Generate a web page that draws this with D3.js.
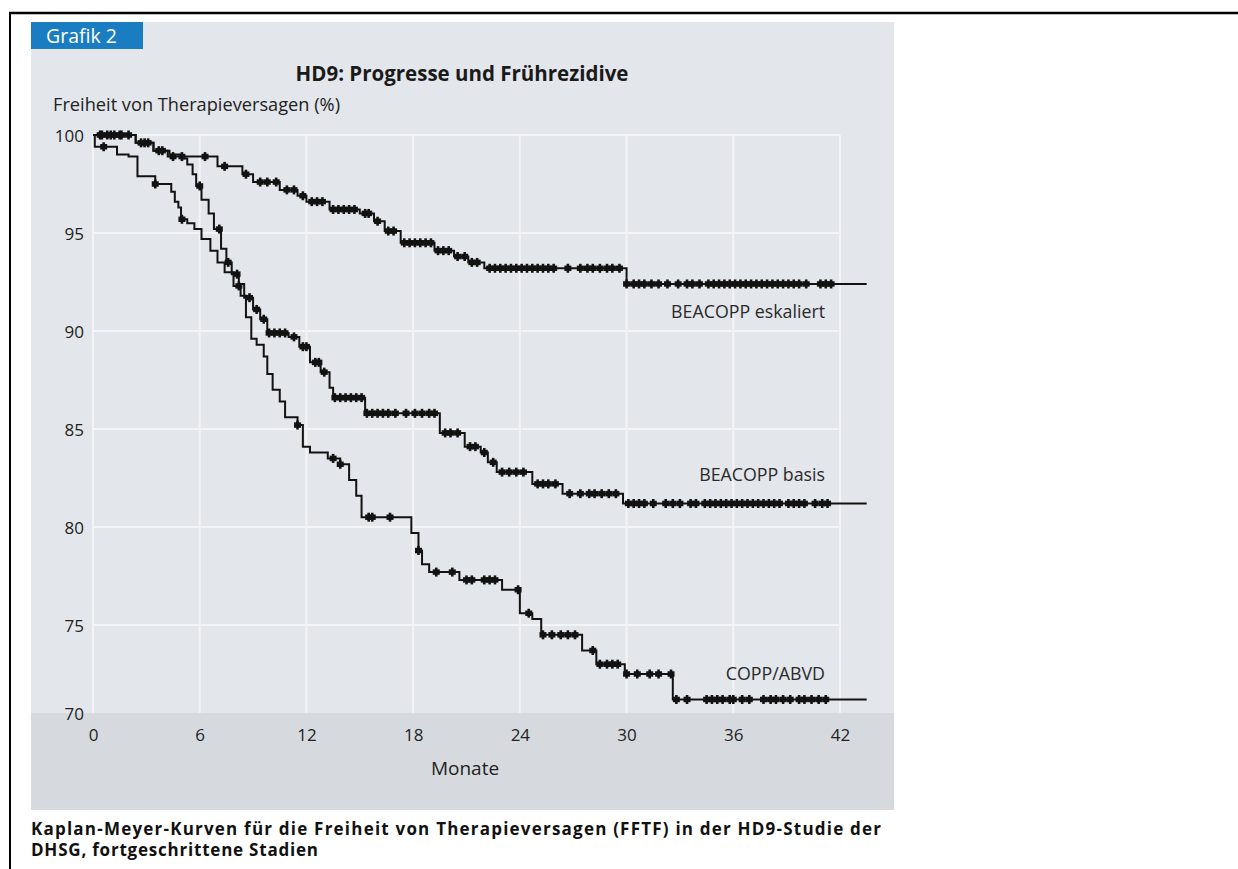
<!DOCTYPE html>
<html>
<head>
<meta charset="utf-8">
<script src="https://cdn.jsdelivr.net/npm/d3@7"></script>
<style>
  body { margin: 0; background: #fff; }
  svg { display: block; }
</style>
</head>
<body>
<div id="chart"></div>
<script>
// axis ticks
const monthTicks = [0, 6, 12, 18, 24, 30, 36, 42];
const pctTicks = [70, 75, 80, 85, 90, 95, 100];

// Kaplan-Meyer steps: [month, FFTF %]
const escSteps = [[0,100],[2.4,99.6],[3.4,99.2],[4.2,98.9],[7.0,98.4],[8.4,98.0],[9.0,97.6],
  [10.5,97.2],[11.5,96.9],[12.0,96.6],[13.3,96.2],[15.0,96.0],[15.8,95.6],[16.4,95.1],
  [17.3,94.5],[19.2,94.1],[20.3,93.8],[21.1,93.5],[22.0,93.2],[30.0,92.4],[43.5,92.4]];
const basSteps = [[0,100],[2.4,99.6],[3.4,99.2],[4.3,99.0],[5.0,98.8],[5.3,98.5],[5.6,98.0],
  [5.8,97.4],[6.1,96.7],[6.5,96.0],[6.8,95.2],[7.2,94.2],[7.5,93.5],[7.8,92.9],[8.2,92.4],
  [8.5,91.7],[9.0,91.1],[9.4,90.6],[9.8,89.9],[11.0,89.7],[11.6,89.2],[12.2,88.4],[12.8,87.9],
  [13.3,87.1],[13.5,86.6],[15.3,85.8],[19.5,84.8],[20.9,84.1],[21.8,83.8],[22.2,83.3],
  [22.7,82.8],[24.7,82.2],[26.4,81.7],[29.8,81.2],[43.5,81.2]];
const coppSteps = [[0,100],[0.1,99.4],[1.35,99.0],[2.0,98.9],[2.5,97.9],[3.5,97.5],[4.4,97.1],
  [4.6,96.6],[4.8,96.3],[4.95,95.7],[5.3,95.5],[5.7,95.2],[6.1,94.7],[6.6,94.1],[7.0,93.5],
  [7.4,93.0],[7.9,92.3],[8.3,91.8],[8.6,90.7],[8.9,89.6],[9.2,89.3],[9.6,88.7],[9.8,87.8],
  [10.1,87.0],[10.5,86.4],[10.8,85.6],[11.5,85.2],[11.8,84.1],[12.2,83.8],[13.2,83.5],
  [13.9,83.2],[14.4,82.4],[14.8,81.6],[15.1,80.5],[17.9,79.7],[18.3,78.8],[18.5,78.1],
  [18.9,77.7],[20.6,77.3],[23.0,76.8],[24.0,75.6],[24.7,75.3],[25.2,74.5],[27.5,73.7],
  [28.3,73.0],[29.9,72.5],[32.6,71.2],[43.5,71.2]];

// censored observations (months)
const escCensor = [0.4,0.8,1.2,1.6,2.0,2.7,3.1,3.7,4.5,5.0,6.3,7.4,8.6,9.4,9.8,10.3,10.9,11.3,
  11.8,12.3,12.6,12.9,13.5,13.8,14.1,14.4,14.7,15.3,15.5,16.0,16.6,16.9,17.5,17.8,18.1,18.4,
  18.7,19.0,19.4,19.7,20.0,20.5,20.9,21.3,21.6,22.3,22.6,22.9,23.2,23.5,23.8,24.1,24.4,24.7,
  25.0,25.3,25.6,25.9,26.7,27.4,27.8,28.1,28.5,28.9,29.2,29.6,30.0,30.4,30.7,31.0,31.4,31.8,
  32.3,32.9,33.4,33.7,34.1,34.6,34.9,35.2,35.5,35.8,36.1,36.4,36.7,37.0,37.3,37.6,37.9,38.2,
  38.5,38.8,39.1,39.4,39.7,40.1,40.9,41.2,41.5];
const basCensor = [0.5,1.0,1.5,2.9,3.9,6.0,7.1,7.6,8.1,8.8,9.2,9.6,9.9,10.2,10.5,10.8,11.3,
  11.8,12.0,12.5,12.7,13.0,13.6,13.9,14.2,14.5,14.8,15.1,15.4,15.7,16.0,16.3,16.6,17.0,17.6,
  18.1,18.5,18.9,19.2,19.8,20.1,20.5,21.2,21.5,22.0,22.5,23.0,23.4,23.8,24.2,25.0,25.3,25.6,
  26.0,26.8,27.4,27.9,28.2,28.6,29.0,29.4,30.1,30.4,30.7,31.0,31.5,32.2,32.6,33.0,33.6,33.9,
  34.4,34.7,35.0,35.3,35.6,35.9,36.2,36.5,36.8,37.1,37.4,37.7,38.0,38.3,38.6,39.1,39.4,39.7,
  40.0,40.6,41.0,41.3];
const coppCensor = [0.6,3.5,5.0,8.2,11.5,13.5,13.9,15.5,15.7,16.7,18.3,19.3,20.2,21.0,21.3,
  22.0,22.3,22.6,23.9,24.5,25.3,25.8,26.3,26.7,27.1,28.1,28.5,28.9,29.2,29.5,30.0,30.6,31.3,
  31.8,32.5,32.8,33.4,34.5,34.8,35.1,35.4,35.8,36.0,36.5,36.9,37.7,38.1,38.4,38.8,39.2,39.7,
  40.0,40.4,40.8,41.2];

const seriesNames = ["BEACOPP eskaliert", "BEACOPP basis", "COPP/ABVD"];

const series = [
  {name: seriesNames[0], steps: escSteps, censor: escCensor},
  {name: seriesNames[1], steps: basSteps, censor: basCensor},
  {name: seriesNames[2], steps: coppSteps, censor: coppCensor}
];

const font = "'Open Sans', 'DejaVu Sans', sans-serif";
const ink = "#121212";

const svg = d3.select("#chart").append("svg")
  .attr("width", 1238)
  .attr("height", 869)
  .attr("font-family", font);

// page frame
svg.append("line").attr("x1", 9).attr("x2", 1238).attr("y1", 13).attr("y2", 13)
  .attr("stroke", "#000").attr("stroke-width", 2.5);
svg.append("line").attr("x1", 10).attr("x2", 10).attr("y1", 12).attr("y2", 869)
  .attr("stroke", "#000").attr("stroke-width", 2);

// panel background
svg.append("rect").attr("x", 31).attr("y", 22).attr("width", 863).attr("height", 788)
  .attr("fill", "#e3e6ea");

const x = d3.scaleLinear().domain([0, 42]).range([93, 840]);
const y = d3.scaleLinear().domain([70, 100]).range([723, 135]);

// grid
const grid = svg.append("g").attr("stroke", "#f3f4f6").attr("stroke-width", 2);
grid.selectAll("line.h").data(pctTicks).join("line").attr("class", "h")
  .attr("x1", x(0)).attr("x2", x(42))
  .attr("y1", d => y(d)).attr("y2", d => y(d));
grid.selectAll("line.v").data(monthTicks).join("line").attr("class", "v")
  .attr("x1", d => x(d)).attr("x2", d => x(d))
  .attr("y1", y(100)).attr("y2", y(70));

// darker axis band
svg.append("rect").attr("x", 31).attr("y", 713).attr("width", 863).attr("height", 97)
  .attr("fill", "#d6dadf");

// curves
const line = d3.line()
  .x(d => x(d[0]))
  .y(d => y(d[1]))
  .curve(d3.curveStepAfter);

const bisect = d3.bisector(d => d[0]).right;
function stepAt(steps, t) {
  return steps[Math.max(0, bisect(steps, t) - 1)][1];
}

const curves = svg.append("g");
series.forEach(s => {
  const g = curves.append("g");
  g.append("path")
    .attr("d", line(s.steps))
    .attr("fill", "none")
    .attr("stroke", ink)
    .attr("stroke-width", 2);
  // censor marks: bold "+" so that dense runs blend into a thick band
  const marks = g.selectAll("g.cens").data(s.censor).join("g")
    .attr("class", "cens")
    .attr("transform", d => `translate(${x(d)},${y(stepAt(s.steps, d))})`)
    .attr("stroke", ink);
  marks.append("line").attr("y1", -4.5).attr("y2", 4.5).attr("stroke-width", 2.6);
  marks.append("line").attr("x1", -3.5).attr("x2", 3.5).attr("stroke-width", 5.5);
});

// series labels
const labelY = [318, 481, 680];
svg.append("g")
  .attr("font-size", 17.8)
  .attr("fill", "#2a2a2a")
  .attr("text-anchor", "end")
  .selectAll("text").data(seriesNames).join("text")
  .attr("x", 825)
  .attr("y", (d, i) => labelY[i])
  .text(d => d);

// axes
const yAxis = svg.append("g")
  .attr("transform", `translate(${x(0)},0)`)
  .call(d3.axisLeft(y).tickValues(pctTicks).tickSize(0).tickPadding(9));
yAxis.select(".domain").remove();
yAxis.selectAll("text")
  .attr("font-family", font).attr("font-size", 17).attr("fill", "#222")
  .attr("y", d => d === 70 ? -9 : 1);

const xAxis = svg.append("g")
  .attr("transform", "translate(0,729)")
  .call(d3.axisBottom(x).tickValues(monthTicks).tickSize(0).tickPadding(0));
xAxis.select(".domain").remove();
xAxis.selectAll("text")
  .attr("font-family", font).attr("font-size", 17).attr("fill", "#222");

svg.append("text")
  .attr("x", 465).attr("y", 775)
  .attr("text-anchor", "middle")
  .attr("font-size", 19).attr("fill", "#222")
  .text("Monate");

svg.append("text")
  .attr("x", 53).attr("y", 111)
  .attr("font-size", 18).attr("fill", "#222")
  .attr("textLength", 287).attr("lengthAdjust", "spacingAndGlyphs")
  .text("Freiheit von Therapieversagen (%)");

// header
svg.append("rect").attr("x", 31).attr("y", 22).attr("width", 112).attr("height", 27)
  .attr("fill", "#1a7cc1");
svg.append("text").attr("x", 46).attr("y", 43)
  .attr("font-size", 19.5).attr("fill", "#fff")
  .text("Grafik 2");

svg.append("text")
  .attr("x", 462).attr("y", 81)
  .attr("text-anchor", "middle")
  .attr("font-size", 20.5).attr("font-weight", "bold").attr("fill", "#1a1a1a")
  .text("HD9: Progresse und Frührezidive");

// caption
svg.append("text")
  .attr("x", 31).attr("y", 835)
  .attr("font-size", 17).attr("font-weight", "bold").attr("fill", "#111")
  .attr("textLength", 850).attr("lengthAdjust", "spacing")
  .text("Kaplan-Meyer-Kurven für die Freiheit von Therapieversagen (FFTF) in der HD9-Studie der");
svg.append("text")
  .attr("x", 31).attr("y", 856)
  .attr("font-size", 17).attr("font-weight", "bold").attr("fill", "#111")
  .attr("textLength", 287).attr("lengthAdjust", "spacing")
  .text("DHSG, fortgeschrittene Stadien");
</script>
</body>
</html>
